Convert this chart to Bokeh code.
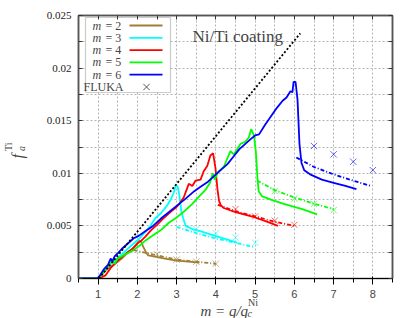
import numpy as np
from bokeh.plotting import figure
from bokeh.models import FixedTicker, LinearAxis, Label, BoxAnnotation, Range1d
from bokeh.embed import file_html
from bokeh.resources import INLINE

# ---------------- data ----------------
m2_x = [0.5, 0.98, 1.05, 1.2, 1.4, 1.6, 1.8, 1.95, 2.05, 2.1, 2.15, 2.22, 2.27, 2.42, 2.7, 3.0, 3.3, 3.58]
m2_y = [0, 0, 0.0002, 0.0008, 0.0013, 0.0019, 0.0026, 0.0031, 0.0036, 0.0035, 0.0030, 0.0025, 0.0022, 0.0021, 0.0019, 0.0017, 0.0016, 0.0015]
m2_dx = [1.9, 2.5, 3.0, 3.5, 4.0]
m2_dy = [0.0027, 0.0022, 0.0018, 0.0016, 0.0014]
m2_fx = [2.5, 3.0, 3.5, 4.0]
m2_fy = [0.0023, 0.0018, 0.0016, 0.0014]

m3_x = [0.5, 0.98, 1.05, 1.15, 1.3, 1.45, 1.6, 1.75, 1.9, 2.05, 2.2, 2.35, 2.45, 2.6, 2.75, 2.85, 2.93,
        2.98, 3.03, 3.07, 3.12, 3.17, 3.23, 3.4, 3.6, 3.86, 4.1, 4.3, 4.54]
m3_y = [0, 0, 0.0003, 0.0008, 0.0013, 0.0018, 0.0023, 0.0028, 0.0033, 0.0038, 0.0044, 0.0051, 0.0057,
        0.0062, 0.0069, 0.0075, 0.0082, 0.0089, 0.0087, 0.0079, 0.0064, 0.0057, 0.0050, 0.0047, 0.0045,
        0.0042, 0.0039, 0.0037, 0.0034]
m3_dx = [3.0, 3.5, 4.0, 4.5, 4.95]
m3_dy = [0.0049, 0.0043, 0.0038, 0.0034, 0.0030]
m3_fx = [3.5, 4.0, 4.5, 5.0]
m3_fy = [0.0047, 0.0043, 0.0039, 0.0034]

m4_x = [0.5, 0.98, 1.08, 1.19, 1.32, 1.42, 1.53, 1.65, 1.75, 1.87, 1.99, 2.1, 2.21, 2.35, 2.5, 2.63, 2.75,
        2.87, 2.97, 3.07, 3.18, 3.25, 3.31, 3.4, 3.48, 3.61, 3.69, 3.78, 3.86, 3.93, 3.99, 4.04, 4.08,
        4.12, 4.2, 4.5, 5.0, 5.3, 5.58]
m4_y = [0, 0, 0.0001, 0.0003, 0.0010, 0.0014, 0.0018, 0.0022, 0.0025, 0.0028, 0.0033, 0.0036, 0.0040,
        0.0046, 0.0051, 0.0056, 0.0060, 0.0064, 0.0067, 0.0071, 0.0077, 0.0084, 0.0090, 0.0088, 0.0093,
        0.0094, 0.0102, 0.0107, 0.0117, 0.0119, 0.0105, 0.0085, 0.0074, 0.0070, 0.0067, 0.0063, 0.0058,
        0.0054, 0.0050]
m4_dx = [4.05, 4.5, 5.0, 5.5, 6.0]
m4_dy = [0.0070, 0.0064, 0.0059, 0.0054, 0.0050]
m4_fx = [4.5, 5.0, 5.5, 6.0]
m4_fy = [0.0066, 0.0059, 0.0055, 0.0051]

m5_x = [0.5, 0.98, 1.05, 1.2, 1.35, 1.42, 1.5, 1.7, 1.9, 2.05, 2.2, 2.4, 2.6, 2.8, 3.0, 3.2, 3.4, 3.6,
        3.75, 3.85, 3.92, 3.97, 4.05, 4.2, 4.37, 4.46, 4.63, 4.75, 4.84, 4.9, 4.97, 5.02, 5.06, 5.09,
        5.18, 5.4, 5.73, 6.2, 6.58]
m5_y = [0, 0, 0.0002, 0.0009, 0.0017, 0.0014, 0.0019, 0.0023, 0.0027, 0.0031, 0.0036, 0.0041, 0.0046,
        0.0053, 0.0058, 0.0064, 0.0071, 0.0079, 0.0085, 0.0091, 0.0100, 0.0094, 0.0101, 0.0106, 0.0121,
        0.0118, 0.0128, 0.0130, 0.0134, 0.0142, 0.0136, 0.0120, 0.0095, 0.0083, 0.0078, 0.0075, 0.0071,
        0.0066, 0.0061]
m5_dx = [5.05, 5.5, 6.0, 6.5, 7.0]
m5_dy = [0.0093, 0.0084, 0.0077, 0.0071, 0.0066]
m5_fx = [5.5, 6.0, 6.5, 7.0]
m5_fy = [0.0083, 0.0076, 0.0071, 0.0065]

m6_x = [0.5, 0.98, 1.05, 1.15, 1.25, 1.32, 1.36, 1.42, 1.5, 1.6, 1.75, 1.9, 2.05, 2.2, 2.4, 2.6, 2.8,
        3.0, 3.2, 3.45, 3.6, 3.8, 4.0, 4.15, 4.3, 4.45, 4.6, 4.75, 4.9, 5.0, 5.1, 5.25, 5.4, 5.55, 5.7,
        5.8, 5.9, 5.95, 5.98, 6.03, 6.08, 6.13, 6.18, 6.25, 6.4, 6.7, 7.0, 7.3, 7.58]
m6_y = [0, 0, 0.0003, 0.0009, 0.0013, 0.0019, 0.0016, 0.0021, 0.0024, 0.0028, 0.0033, 0.0038, 0.0041,
        0.0045, 0.0050, 0.0057, 0.0063, 0.0069, 0.0075, 0.0083, 0.0087, 0.0092, 0.0099, 0.0104, 0.0109,
        0.0116, 0.0123, 0.0128, 0.0133, 0.0136, 0.0137, 0.0146, 0.0154, 0.0162, 0.0169, 0.0172, 0.0178,
        0.0177, 0.0187, 0.0187, 0.0170, 0.0128, 0.0110, 0.0103, 0.0099, 0.0094, 0.0091, 0.0088, 0.0085]
m6_dx = [6.05, 6.5, 7.0, 7.5, 7.95]
m6_dy = [0.0115, 0.0106, 0.0099, 0.0093, 0.0088]
m6_fx = [6.5, 7.0, 7.5, 8.0]
m6_fy = [0.0126, 0.0118, 0.0111, 0.0103]

ideal_x = [1.02, 6.15]
ideal_y = [0.0, 0.0233]

labels = ["2", "3", "4", "5", "6"]
colors = ["#a07f35", "#00ffff", "#ff0000", "#00ff00", "#0000ff"]

x_major = [1, 2, 3, 4, 5, 6, 7, 8]
x_minor = [0.5, 1.5, 2.5, 3.5, 4.5, 5.5, 6.5, 7.5, 8.5]
y_major = [0, 0.005, 0.01, 0.015, 0.02, 0.025]
y_minor = [0.0025, 0.0075, 0.0125, 0.0175, 0.0225]
y_labels = ["0", "0.005", "0.01", "0.015", "0.02", "0.025"]

# ---------------- layout ----------------
W, H = 415, 318
FL, FT, FR, FB = 78, 15, 392, 278   # frame edges in page pixels
X0, X1, Y0, Y1 = 0.5, 8.5, 0.0, 0.025
SERIF = "Liberation Serif"


def dx(sx):
    return X0 + (sx - FL) / (FR - FL) * (X1 - X0)


def dy(sy):
    return Y0 + (FB - sy) / (FB - FT) * (Y1 - Y0)


def slabel(sx, sy, text, **kw):
    # label inside the frame, screen units relative to the frame's bottom-left corner
    return Label(x=sx - FL, y=FB - sy, x_units="screen", y_units="screen", text=text,
                 text_font=SERIF, **kw)


def clabel(sx, sy, text, **kw):
    # label in a side panel, canvas units (top-left origin)
    return Label(x=sx, y=sy, x_units="canvas", y_units="canvas", text=text,
                 text_font=SERIF, **kw)


p = figure(width=W, height=H, x_range=Range1d(X0, X1), y_range=Range1d(Y0, Y1),
           output_backend="svg", toolbar_location=None,
           min_border_left=FL, min_border_top=FT,
           min_border_right=W - FR, min_border_bottom=H - FB)
p.background_fill_color = "white"
p.border_fill_color = "white"
p.outline_line_color = "#555555"
p.outline_line_width = 1.5

xt = FixedTicker(ticks=x_major, minor_ticks=x_minor)
yt = FixedTicker(ticks=y_major, minor_ticks=y_minor)

for ax in p.xaxis:
    ax.ticker = xt
for ax in p.yaxis:
    ax.ticker = yt
    ax.major_label_overrides = {v: s for v, s in zip(y_major, y_labels)}

top = LinearAxis(ticker=xt)
right = LinearAxis(ticker=yt)
top.major_label_overrides = {v: "" for v in x_major}
right.major_label_overrides = {v: "" for v in y_major}
p.add_layout(top, "above")
p.add_layout(right, "right")

for ax in [p.xaxis[0], p.yaxis[0], top, right]:
    ax.axis_line_color = "#555555"
    ax.axis_line_width = 1.5
    ax.major_tick_in = 4
    ax.major_tick_out = 0
    ax.minor_tick_in = 4
    ax.minor_tick_out = 0
    ax.major_tick_line_color = "#333333"
    ax.minor_tick_line_color = "#333333"
    ax.major_label_text_font = SERIF
    ax.major_label_text_font_size = "11px"
    ax.major_label_text_color = "#222222"
for ax in [top, right]:
    ax.major_label_standoff = 0
p.xaxis[0].major_label_standoff = 3
p.yaxis[0].major_label_standoff = 7

for g in [p.xgrid[0], p.ygrid[0]]:
    g.level = "image"
    g.grid_line_color = "#b4b4b4"
    g.grid_line_dash = "2 2"
    g.grid_line_width = 1
    g.minor_grid_line_color = "#b4b4b4"
    g.minor_grid_line_dash = "2 2"
    g.minor_grid_line_width = 1
p.xgrid[0].ticker = xt
p.ygrid[0].ticker = yt

# ---------------- curves ----------------
solid = [(m2_x, m2_y), (m3_x, m3_y), (m4_x, m4_y), (m5_x, m5_y), (m6_x, m6_y)]
dotted = [(m2_dx, m2_dy), (m3_dx, m3_dy), (m4_dx, m4_dy), (m5_dx, m5_dy), (m6_dx, m6_dy)]
fluka = [(m2_fx, m2_fy), (m3_fx, m3_fy), (m4_fx, m4_fy), (m5_fx, m5_fy), (m6_fx, m6_fy)]

for (x, y), c in zip(solid, colors):
    p.line(x, y, line_color=c, line_width=1.8)
for (x, y), c in zip(dotted, colors):
    p.line(x, y, line_color=c, line_width=1.8, line_dash="4 2 1 2")
for (x, y), c in zip(fluka, colors):
    p.scatter(x, y, marker="x", size=9, line_color=c, line_alpha=0.6, line_width=1)

p.line(ideal_x, ideal_y, line_color="black", line_width=1.8, line_dash="2 2")

# ---------------- legend (manual, label left / sample right) ----------------
LB_L, LB_R, LB_T, LB_B = 85, 170, 17, 92
p.add_layout(BoxAnnotation(left=dx(LB_L), right=dx(LB_R), top=dy(LB_T), bottom=dy(LB_B),
                           fill_color="white", fill_alpha=1.0, line_color="#555555",
                           line_width=1.2, level="underlay"))
row0, drow = 25.0, 12.3
for i, (lab, c) in enumerate(zip(labels, colors)):
    sy = row0 + i * drow
    p.add_layout(slabel(92, sy, "m", text_font_style="italic", text_font_size="12px",
                        text_baseline="middle", text_align="left"))
    p.add_layout(slabel(105, sy, "= " + lab, text_font_size="12px",
                        text_baseline="middle", text_align="left"))
    p.line([dx(129), dx(162)], [dy(sy), dy(sy)], line_color=c, line_width=1.8)
sy = row0 + 5 * drow
p.add_layout(slabel(83, sy, "FLUKA", text_font_size="12px",
                    text_baseline="middle", text_align="left"))
p.scatter([dx(146)], [dy(sy)], marker="x", size=9, line_color="#555555", line_width=1)

# ---------------- texts ----------------
p.add_layout(slabel(192, 36, "Ni/Ti coating", text_font_size="17px",
                    text_baseline="middle", text_align="left"))

# x axis label: m = q/q_c^Ni  (side panels, so it is not clipped to the frame)
p.add_layout(clabel(200, 310, "m = q/q", text_font_style="italic", text_font_size="15px",
                    text_baseline="alphabetic", text_align="left"), "below")
p.add_layout(clabel(247, 313, "c", text_font_style="italic", text_font_size="10px",
                    text_baseline="alphabetic", text_align="left"), "right")
p.add_layout(clabel(247.5, 302, "Ni", text_font_size="10px",
                    text_baseline="alphabetic", text_align="left"), "right")

# y axis label: f_a^Ti (rotated)
for sx, sy, t, style, size in [(17, 158, "f", "italic", "16px"),
                               (21, 150.5, "a", "italic", "10px"),
                               (8, 150.5, "Ti", "normal", "10px")]:
    p.add_layout(clabel(sx, sy, t, text_font_style=style, text_font_size=size,
                        text_baseline="middle", text_align="left", angle=np.pi / 2), "left")

open("out.html", "w").write(file_html(p, INLINE))
